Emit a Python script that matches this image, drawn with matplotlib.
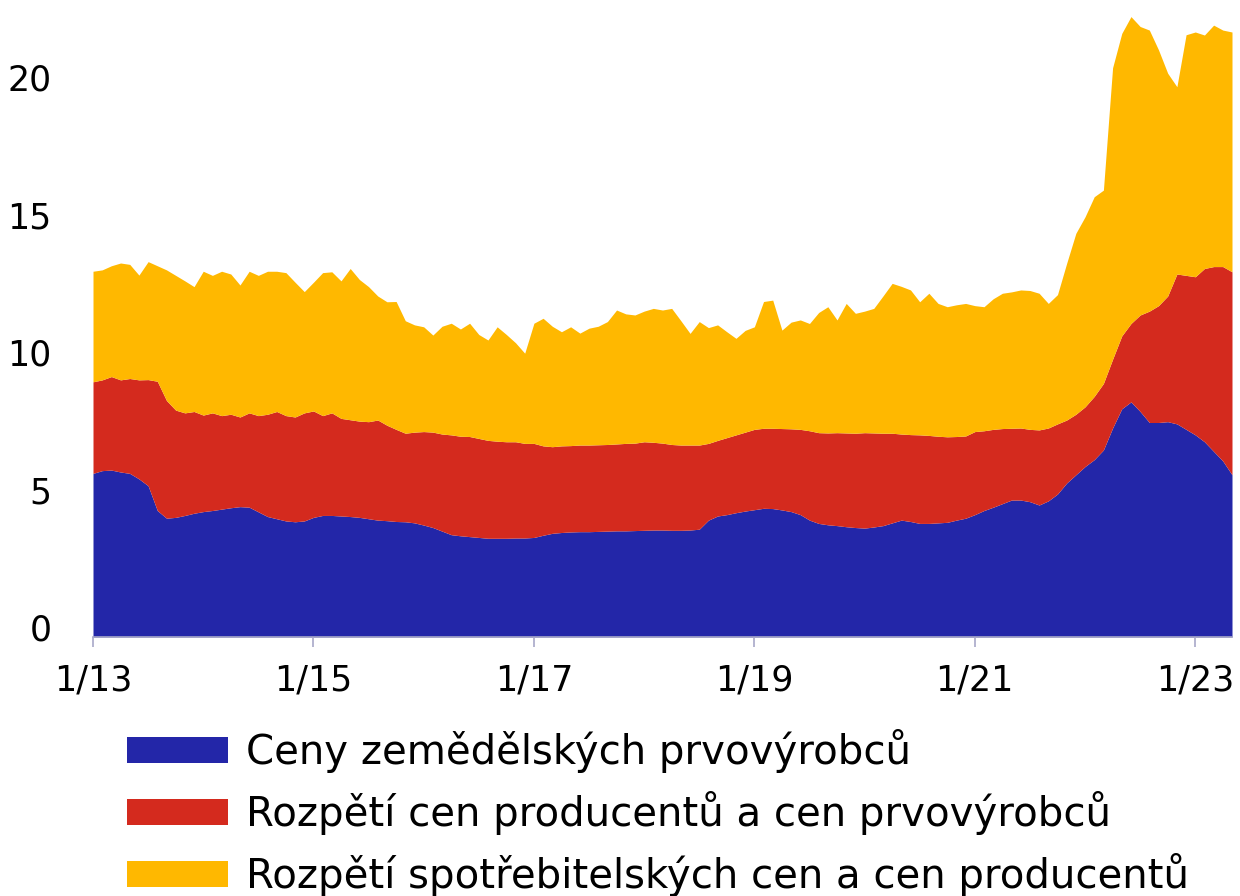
import numpy as np
import matplotlib
matplotlib.use("Agg")
import matplotlib.pyplot as plt
from matplotlib.transforms import ScaledTranslation

# monthly data 1/2013 - 5/2023, stacked levels
months = np.arange(125)

# top of blue area = ceny zemedelskych prvovyrobcu
level_farm = [
    5.95, 6.05, 6.07, 6.00, 5.95, 5.75, 5.50, 4.60, 4.32, 4.35, 4.42, 4.50,
    4.56, 4.60, 4.65, 4.70, 4.74, 4.72, 4.55, 4.38, 4.30, 4.22, 4.19, 4.22,
    4.35, 4.42, 4.42, 4.40, 4.38, 4.35, 4.30, 4.25, 4.23, 4.20, 4.19, 4.15,
    4.07, 3.98, 3.85, 3.72, 3.68, 3.65, 3.62, 3.59, 3.59, 3.59, 3.60, 3.60,
    3.62, 3.70, 3.77, 3.80, 3.82, 3.83, 3.83, 3.84, 3.85, 3.86, 3.86, 3.87,
    3.88, 3.89, 3.89, 3.88, 3.88, 3.89, 3.92, 4.25, 4.40, 4.45, 4.52, 4.58,
    4.63, 4.68, 4.67, 4.62, 4.56, 4.45, 4.25, 4.13, 4.08, 4.05, 4.01, 3.98,
    3.96, 4.00, 4.05, 4.15, 4.25, 4.20, 4.13, 4.13, 4.15, 4.17, 4.25, 4.32,
    4.45, 4.60, 4.72, 4.85, 4.98, 4.98, 4.92, 4.80, 4.95, 5.20, 5.60, 5.90,
    6.20, 6.45, 6.80, 7.60, 8.30, 8.55, 8.20, 7.80, 7.80, 7.83, 7.75, 7.55,
    7.35, 7.10, 6.75, 6.40, 5.90,
]

# top of red area = + rozpeti cen producentu a cen prvovyrobcu
level_producer = [
    9.28, 9.35, 9.47, 9.35, 9.40, 9.35, 9.36, 9.30, 8.60, 8.25, 8.15, 8.20,
    8.07, 8.15, 8.05, 8.10, 8.00, 8.15, 8.05, 8.10, 8.20, 8.05, 8.00, 8.15,
    8.22, 8.05, 8.15, 7.95, 7.90, 7.85, 7.83, 7.89, 7.70, 7.55, 7.41, 7.45,
    7.47, 7.45, 7.38, 7.35, 7.30, 7.29, 7.22, 7.15, 7.12, 7.10, 7.10, 7.04,
    7.04, 6.95, 6.92, 6.95, 6.96, 6.98, 6.98, 6.99, 7.00, 7.02, 7.04, 7.05,
    7.10, 7.08, 7.05, 7.00, 6.98, 6.98, 6.98, 7.04, 7.15, 7.25, 7.35, 7.45,
    7.55, 7.59, 7.59, 7.58, 7.57, 7.55, 7.50, 7.43, 7.42, 7.43, 7.42, 7.41,
    7.43, 7.42, 7.41, 7.41, 7.38, 7.36, 7.35, 7.33, 7.30, 7.28, 7.29, 7.31,
    7.47, 7.50, 7.55, 7.58, 7.59, 7.60, 7.55, 7.53, 7.60, 7.75, 7.89, 8.10,
    8.37, 8.75, 9.22, 10.10, 10.95, 11.40, 11.71, 11.85, 12.05, 12.40, 13.20, 13.15,
    13.10, 13.40, 13.47, 13.47, 13.28,
]

# top of yellow area = + rozpeti spotrebitelskych cen a cen producentu
level_consumer = [
    13.30, 13.35, 13.50, 13.60, 13.55, 13.16, 13.65, 13.50, 13.35, 13.15, 12.95, 12.74,
    13.30, 13.15, 13.30, 13.20, 12.80, 13.30, 13.15, 13.30, 13.30, 13.25, 12.90, 12.56,
    12.90, 13.25, 13.28, 12.95, 13.40, 13.00, 12.74, 12.40, 12.19, 12.20, 11.50, 11.35,
    11.28, 10.98, 11.30, 11.41, 11.20, 11.41, 11.00, 10.80, 11.28, 11.00, 10.70, 10.32,
    11.41, 11.59, 11.30, 11.10, 11.28, 11.05, 11.23, 11.30, 11.47, 11.89, 11.75, 11.71,
    11.85, 11.95, 11.89, 11.95, 11.50, 11.04, 11.47, 11.25, 11.35, 11.10, 10.86, 11.15,
    11.28, 12.20, 12.25, 11.16, 11.45, 11.53, 11.40, 11.80, 12.01, 11.53, 12.13, 11.77,
    11.85, 11.95, 12.40, 12.86, 12.75, 12.62, 12.19, 12.50, 12.13, 12.01, 12.08, 12.13,
    12.05, 12.01, 12.30, 12.50, 12.55, 12.62, 12.60, 12.50, 12.13, 12.45, 13.59, 14.68,
    15.28, 16.01, 16.25, 20.70, 21.95, 22.56, 22.20, 22.07, 21.35, 20.50, 20.01, 21.90,
    22.00, 21.89, 22.25, 22.07, 22.00,
]

labels = [
    "Ceny zemědělských prvovýrobců",
    "Rozpětí cen producentů a cen prvovýrobců",
    "Rozpětí spotřebitelských cen a cen producentů",
]
colors = ["#2326A8", "#D42A1E", "#FFB800"]

tick_pos = [0, 24, 48, 72, 96, 120]
tick_lab = ["1/13", "1/15", "1/17", "1/19", "1/21", "1/23"]

fig = plt.figure(figsize=(12.4, 8.96), dpi=100)
ax = fig.add_axes([93 / 1240, 1 - 637 / 896, (1232 - 93) / 1240, (637 - 4.5) / 896])

ax.fill_between(months, 0, level_farm, color=colors[0], lw=0, label=labels[0])
ax.fill_between(months, level_farm, level_producer, color=colors[1], lw=0, label=labels[1])
ax.fill_between(months, level_producer, level_consumer, color=colors[2], lw=0, label=labels[2])

ax.set_xlim(0, 124)
ax.set_ylim(0, 23)
ax.set_xticks(tick_pos)
ax.set_xticklabels(tick_lab)
ax.set_yticks([0, 5, 10, 15, 20])

for s in ["top", "right", "left"]:
    ax.spines[s].set_visible(False)
ax.spines["bottom"].set_color("#a8a8c8")
ax.spines["bottom"].set_linewidth(1.2)
ax.tick_params(axis="x", length=7, width=1.2, color="#a8a8c8", labelsize=25, pad=12)
ax.tick_params(axis="y", length=0, labelsize=25, pad=30)
for lab in ax.get_yticklabels():
    lab.set_transform(lab.get_transform() + ScaledTranslation(0, 0.10, fig.dpi_scale_trans))

ax.legend(loc="upper left", bbox_to_anchor=(127 / 1240, 1 - 729 / 896),
          bbox_transform=fig.transFigure, frameon=False, fontsize=29,
          handlelength=2.5, handleheight=0.6, handletextpad=0.45,
          labelspacing=0.45, borderpad=0, borderaxespad=0)

fig.savefig("out.png", dpi=100)
